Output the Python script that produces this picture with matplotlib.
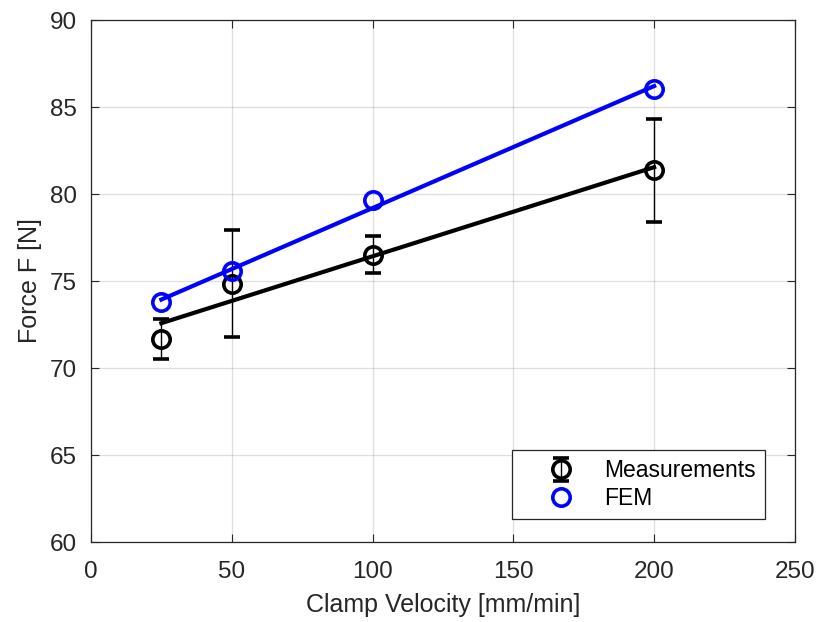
import numpy as np
import matplotlib
matplotlib.use("Agg")
import matplotlib.pyplot as plt

plt.rcParams['font.family'] = ['Liberation Sans', 'DejaVu Sans']

# clamp velocity [mm/min]
velocity = [25, 50, 100, 200]
# measured force, mean and error
meas_force = [71.67, 74.85, 76.52, 81.36]
meas_err = [1.13, 3.09, 1.04, 2.96]
# simulated force
fem_force = [73.78, 75.57, 79.64, 86.03]

x_ticks = [0, 50, 100, 150, 200, 250]
y_ticks = [60, 65, 70, 75, 80, 85, 90]

tick_col = (0.15, 0.15, 0.15)

fig = plt.figure(figsize=(8.18, 6.22), dpi=100)
ax = fig.add_axes([0.1112, 0.1286, 0.8606, 0.8392])

ax.grid(True, color=(0.15, 0.15, 0.15), alpha=0.15, linewidth=0.9)
ax.set_axisbelow(True)

h_meas = ax.errorbar(velocity, meas_force, yerr=meas_err, fmt='o', color='k',
                     mfc='none', mec='k', ms=12.5, mew=2.6, elinewidth=1.0,
                     capsize=5.8, capthick=1.0, label='Measurements', zorder=3)

xfit = np.array([velocity[0], velocity[-1]])
p_meas = np.polyfit(velocity, meas_force, 1)
ax.plot(xfit, np.polyval(p_meas, xfit), color='k', lw=3.0, zorder=4)

h_fem, = ax.plot(velocity, fem_force, 'o', mfc='none', mec='#0000ff', ms=12.5,
                 mew=2.6, label='FEM', zorder=5)
p_fem = np.polyfit(velocity, fem_force, 1)
ax.plot(xfit, np.polyval(p_fem, xfit), color='#0000ff', lw=3.0, zorder=6)

ax.set_xlim(0, 250)
ax.set_ylim(60, 90)
ax.set_xticks(x_ticks)
ax.set_yticks(y_ticks)
ax.tick_params(direction='in', length=6, width=0.8, labelsize=17.5,
               colors=tick_col, top=True, right=True)
ax.tick_params(axis='x', pad=14)
ax.tick_params(axis='y', pad=10)
for s in ax.spines.values():
    s.set_color(tick_col)
    s.set_linewidth(0.9)

ax.set_xlabel('Clamp Velocity [mm/min]', fontsize=18, color=tick_col, labelpad=7)
ax.set_ylabel('Force F [N]', fontsize=18, color=tick_col, labelpad=6)

leg = ax.legend(handles=[h_meas, h_fem], loc='lower right',
                bbox_to_anchor=(0.958, 0.044), borderaxespad=0, fontsize=16.5,
                fancybox=False, framealpha=1, edgecolor=tick_col,
                handlelength=3.5, handletextpad=0.15, borderpad=0.4,
                labelspacing=0.2)
leg.get_frame().set_linewidth(0.9)

fig.savefig('out.png', dpi=100)
